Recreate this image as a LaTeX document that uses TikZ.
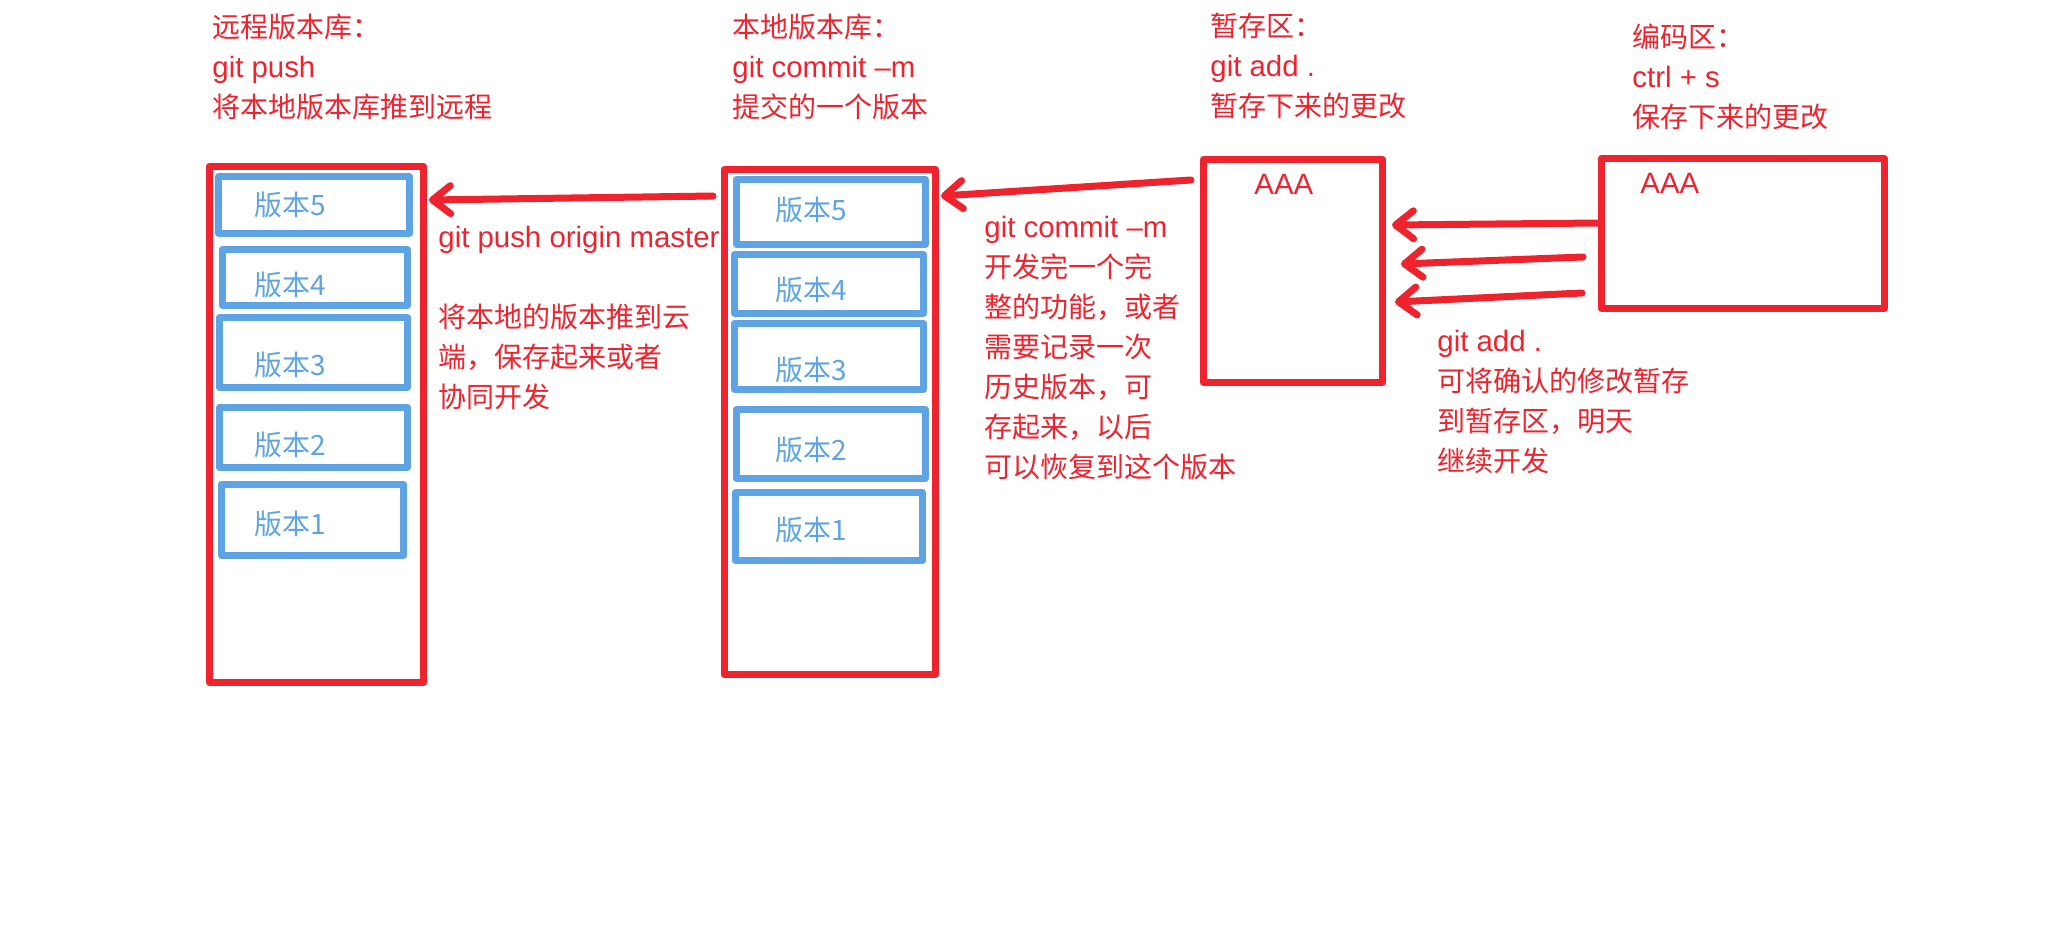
\documentclass[tikz,border=0pt]{standalone}
\usepackage{fontspec}
\setmainfont{Noto Sans CJK SC}
\newfontfamily\lat[Scale=1.05]{Liberation Sans}
\usepackage{tikz}
\usetikzlibrary{arrows.meta}
\definecolor{gitred}{RGB}{238,35,45}
\definecolor{gitblue}{RGB}{94,163,227}
\tikzstyle{repo} = [draw=gitred, line width=3.5pt, line join=round, inner sep=0pt]
\tikzstyle{version} = [draw=gitblue, line width=3.5pt, line join=round, inner sep=0pt]
\tikzstyle{flow} = [draw=gitred, line width=3.5pt, line cap=round, -{Straight Barb[length=9pt,width=14pt,round]}]
\tikzstyle{note} = [text=gitred, align=left, anchor=base west, inner sep=0pt, font=\fontsize{14}{20}\selectfont]
\tikzstyle{vlabel} = [text=gitblue, anchor=base west, inner sep=0pt, font=\fontsize{14}{20}\selectfont]

\begin{document}
\begin{tikzpicture}[x=0.5pt, y=-0.5pt]
    \useasboundingbox[fill=white] (0,0) rectangle (2050,948);
    % titles (placed at the baseline of their last line)
    \node[note] (remotetitle) at (212,117) {远程版本库：\\{\lat git push}\\将本地版本库推到远程};
    \node[note] (localtitle) at (732,117) {本地版本库：\\{\lat git commit –m}\\提交的一个版本};
    \node[note] (stagetitle) at (1210,116) {暂存区：\\{\lat git add .}\\暂存下来的更改};
    \node[note] (codetitle) at (1632,127) {编码区：\\{\lat ctrl + s}\\保存下来的更改};
    % remote repository
    \node[repo, minimum width=107pt, minimum height=258pt] (remote) at (316.5,424.5) {};
    \node[version, minimum width=95.5pt, minimum height=28.5pt] (r5) at (314,205) {};
    \node[version, minimum width=92.5pt, minimum height=28pt] (r4) at (315,277.5) {};
    \node[version, minimum width=94pt, minimum height=35pt] (r3) at (313.5,352.5) {};
    \node[version, minimum width=94pt, minimum height=30pt] (r2) at (313.5,437.5) {};
    \node[version, minimum width=91pt, minimum height=35.5pt] (r1) at (312.5,520) {};
    \node[vlabel] (r5t) at (254,215) {版本5};
    \node[vlabel] (r4t) at (254,295) {版本4};
    \node[vlabel] (r3t) at (254,375) {版本3};
    \node[vlabel] (r2t) at (254,455) {版本2};
    \node[vlabel] (r1t) at (254,534) {版本1};
    % local repository
    \node[repo, minimum width=105.5pt, minimum height=252.5pt] (local) at (830,422) {};
    \node[version, minimum width=94.5pt, minimum height=32.5pt] (l5) at (831,212) {};
    \node[version, minimum width=94.5pt, minimum height=29.5pt] (l4) at (829,284) {};
    \node[version, minimum width=94.5pt, minimum height=33pt] (l3) at (829,356.5) {};
    \node[version, minimum width=94.5pt, minimum height=34.5pt] (l2) at (831,444) {};
    \node[version, minimum width=93.5pt, minimum height=34pt] (l1) at (829,526.5) {};
    \node[vlabel] (l5t) at (775,220) {版本5};
    \node[vlabel] (l4t) at (775,300) {版本4};
    \node[vlabel] (l3t) at (775,380) {版本3};
    \node[vlabel] (l2t) at (775,460) {版本2};
    \node[vlabel] (l1t) at (775,540) {版本1};
    % staging area and working area
    \node[repo, minimum width=89.5pt, minimum height=111.5pt] (stage) at (1293,271) {};
    \node[repo, minimum width=141.5pt, minimum height=75pt] (code) at (1743,233.5) {};
    \node[note] (stageaaa) at (1254,194) {\lat AAA};
    \node[note] (codeaaa) at (1640,193) {\lat AAA};
    % arrows
    \path[flow] ([shift={(-8,30)}]local.north west) -- ([shift={(2,37)}]remote.north east);
    \path[flow] ([shift={(-9,24)}]stage.north west) -- ([shift={(2,30)}]local.north east);
    \path[flow] ([shift={(0,68)}]code.north west) -- ([shift={(6,69)}]stage.north east);
    \path[flow] ([shift={(-15,102)}]code.north west) -- ([shift={(15,108)}]stage.north east);
    \path[flow] ([shift={(-16,138)}]code.north west) -- ([shift={(9,146)}]stage.north east);
    % notes beside the arrows
    \node[note] (pushnote) at (438,407) {{\lat git push origin master}\\[20pt]将本地的版本推到云\\端，保存起来或者\\协同开发};
    \node[note] (commitnote) at (984,477) {{\lat git commit –m}\\开发完一个完\\整的功能，或者\\需要记录一次\\历史版本，可\\存起来，以后\\可以恢复到这个版本};
    \node[note] (addnote) at (1437,471) {{\lat git add .}\\可将确认的修改暂存\\到暂存区，明天\\继续开发};
\end{tikzpicture}
\end{document}
